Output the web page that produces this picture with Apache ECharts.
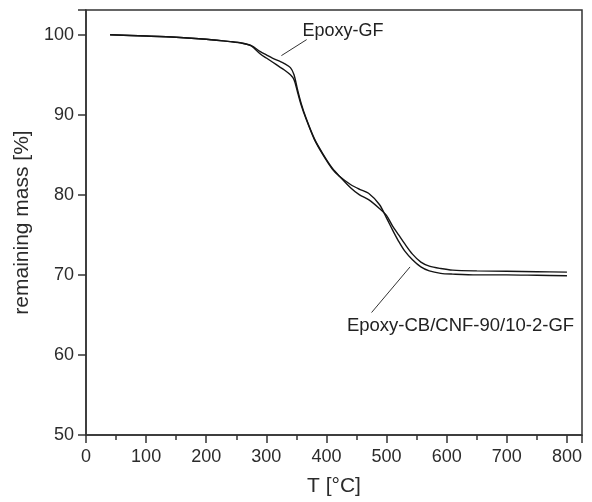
<!DOCTYPE html>
<html>
<head>
<meta charset="utf-8">
<script src="https://cdn.jsdelivr.net/npm/echarts@6/dist/echarts.min.js"></script>
<style>
  html, body { margin: 0; padding: 0; background: #fff; }
  #main { width: 592px; height: 502px; }
</style>
</head>
<body>
<div id="main"></div>
<script>
// temperature grid [°C]
var temps = [40, 100, 150, 200, 240, 260, 275, 290, 300, 310, 322, 330, 340, 346, 352,
             358, 366, 380, 395, 410, 422, 440, 455, 470, 488, 500, 510, 520, 530,
             543, 557, 571, 590, 610, 650, 700, 750, 800];

// remaining mass [%], Epoxy-GF
var massGF = [100.0, 99.85, 99.7, 99.45, 99.15, 98.95, 98.65, 97.9, 97.5, 97.1, 96.7, 96.4, 95.9, 95.0, 93.1,
              91.4, 89.6, 87.0, 85.0, 83.3, 82.3, 80.9, 80.0, 79.4, 78.3, 77.4, 76.1, 75.0, 73.9,
              72.6, 71.6, 71.1, 70.8, 70.6, 70.5, 70.45, 70.4, 70.35];

// remaining mass [%], Epoxy-CB/CNF-90/10-2-GF
var massCB = [100.0, 99.85, 99.7, 99.45, 99.15, 98.95, 98.6, 97.6, 97.1, 96.6, 96.0, 95.6, 95.0, 94.4, 92.8,
              91.2, 89.5, 86.9, 84.9, 83.2, 82.3, 81.3, 80.7, 80.2, 78.8, 77.1, 75.6, 74.2, 73.0,
              71.9, 71.0, 70.5, 70.2, 70.1, 70.0, 70.0, 69.95, 69.9];

var xTicks = [0, 100, 200, 300, 400, 500, 600, 700, 800];
var yTicks = [50, 60, 70, 80, 90, 100];

// annotation pointers [T, mass]
var gfPointer = [[325, 97.4], [367, 99.4]];
var cbPointer = [[539, 71.0], [475, 65.3]];
var gfLabelAt = [360, 101.6];
var cbLabelAt = [434, 64.8];

function zip(xs, ys) {
  var out = [];
  for (var i = 0; i < xs.length; i++) out.push([xs[i], ys[i]]);
  return out;
}

var chart = echarts.init(document.getElementById('main'));
var axisColor = '#333';
var labelColor = '#2b2b2b';

var option = {
  animation: false,
  grid: { left: 86, right: 10, top: 10, bottom: 62, show: true, borderColor: axisColor, borderWidth: 1.5 },
  xAxis: {
    type: 'value', min: 0, max: 825, interval: 100,
    name: 'T [°C]', nameLocation: 'middle', nameGap: 41,
    nameTextStyle: { fontFamily: 'Liberation Sans', fontSize: 21, color: labelColor },
    axisLine: { onZero: false, lineStyle: { color: axisColor, width: 1.5 } },
    axisTick: { inside: false, length: 8, lineStyle: { color: axisColor, width: 1.5 } },
    minorTick: { show: true, splitNumber: 2, length: 5, lineStyle: { color: axisColor, width: 1.5 } },
    axisLabel: {
      margin: 13, fontFamily: 'Liberation Sans', fontSize: 18, color: labelColor,
      formatter: function (v) { return xTicks.indexOf(v) >= 0 ? String(v) : ''; }
    },
    splitLine: { show: false }
  },
  yAxis: {
    type: 'value', min: 50, max: 103.1, interval: 10,
    name: 'remaining mass [%]', nameLocation: 'middle', nameGap: 48,
    nameTextStyle: { fontFamily: 'Liberation Sans', fontSize: 21, color: labelColor },
    axisLine: { onZero: false, lineStyle: { color: axisColor, width: 1.5 } },
    axisTick: { inside: false, length: 8, lineStyle: { color: axisColor, width: 1.5 } },
    axisLabel: {
      margin: 12, fontFamily: 'Liberation Sans', fontSize: 18, color: labelColor,
      formatter: function (v) { return yTicks.indexOf(v) >= 0 ? String(v) : ''; }
    },
    splitLine: { show: false }
  },
  series: [
    {
      name: 'Epoxy-GF', type: 'line', smooth: 0.3, symbol: 'none',
      data: zip(temps, massGF),
      lineStyle: { color: '#151515', width: 1.4 },
      markLine: {
        silent: true, symbol: 'none', label: { show: false },
        lineStyle: { color: '#333', width: 1, type: 'solid' },
        data: [[{ coord: gfPointer[0] }, { coord: gfPointer[1] }]]
      }
    },
    {
      name: 'Epoxy-CB/CNF-90/10-2-GF', type: 'line', smooth: 0.3, symbol: 'none',
      data: zip(temps, massCB),
      lineStyle: { color: '#151515', width: 1.4 },
      markLine: {
        silent: true, symbol: 'none', label: { show: false },
        lineStyle: { color: '#333', width: 1, type: 'solid' },
        data: [[{ coord: cbPointer[0] }, { coord: cbPointer[1] }]]
      }
    }
  ]
};
chart.setOption(option);

var p1 = chart.convertToPixel({ gridIndex: 0 }, gfLabelAt);
var p2 = chart.convertToPixel({ gridIndex: 0 }, cbLabelAt);
chart.setOption({
  graphic: [
    { type: 'text', left: p1[0], top: p1[1],
      style: { text: 'Epoxy-GF', font: '18px "Liberation Sans"', fill: '#222' } },
    { type: 'text', left: p2[0], top: p2[1],
      style: { text: 'Epoxy-CB/CNF-90/10-2-GF', font: '18.5px "Liberation Sans"', fill: '#222' } }
  ]
});
</script>
</body>
</html>
